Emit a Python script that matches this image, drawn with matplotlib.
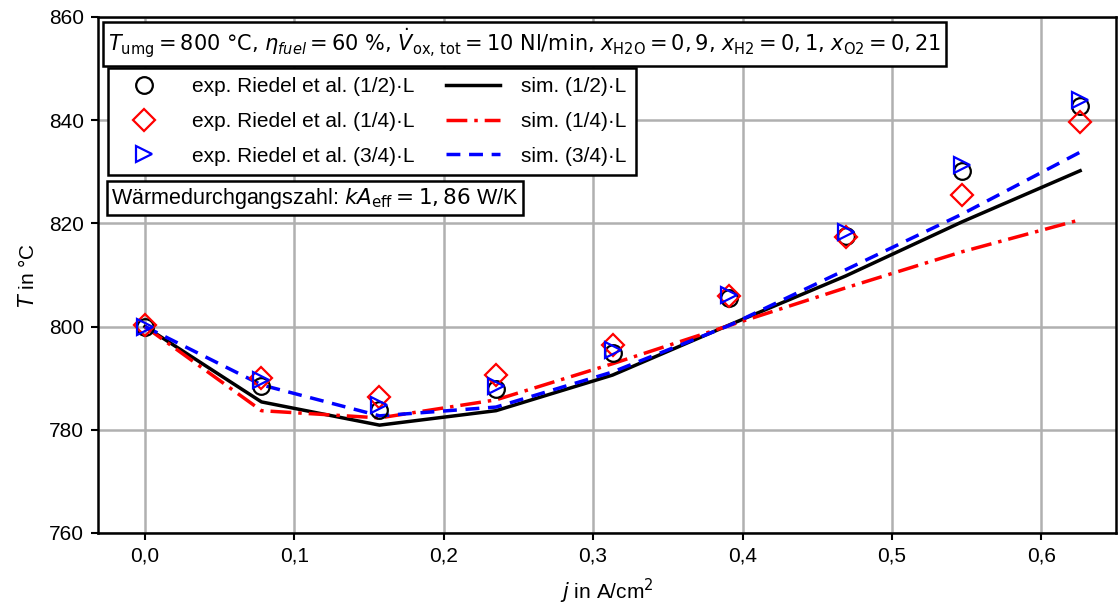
import matplotlib
matplotlib.use("Agg")
import matplotlib.pyplot as plt

j = [0.0, 0.078, 0.157, 0.235, 0.313, 0.391, 0.469, 0.547, 0.626]

exp_half = [800.0, 788.4, 783.8, 787.9, 794.9, 805.5, 817.6, 830.2, 842.8]
exp_quarter = [800.3, 790.0, 786.4, 790.6, 796.4, 805.9, 817.4, 825.5, 839.7]
exp_3quarter = [800.0, 789.7, 784.8, 788.5, 795.5, 806.1, 818.3, 831.3, 843.9]

sim_half = [800.0, 785.4, 780.9, 783.7, 790.6, 800.3, 809.8, 820.3, 830.2]
sim_quarter = [800.0, 783.7, 782.3, 785.8, 792.8, 800.2, 807.5, 814.5, 820.7]
sim_3quarter = [800.0, 788.7, 782.7, 784.4, 791.2, 800.2, 811.0, 821.8, 833.8]

xticks = [0.0, 0.1, 0.2, 0.3, 0.4, 0.5, 0.6]
xticklabels = ["0,0", "0,1", "0,2", "0,3", "0,4", "0,5", "0,6"]
yticks = [760, 780, 800, 820, 840, 860]

plt.rcParams['font.family'] = ['Liberation Sans', 'DejaVu Sans']
plt.rcParams['mathtext.fontset'] = 'dejavusans'
plt.rcParams['font.size'] = 14

fig = plt.figure(figsize=(11.18, 6.06), dpi=100)
ax = fig.add_axes([0.0877, 0.1205, 0.9105, 0.8515])

ax.grid(True, color='#b0b0b0', linewidth=1.8, zorder=0)
ax.set_axisbelow(True)

ms = 12
mew = 1.6
h1, = ax.plot(j, exp_half, linestyle='none', marker='o', ms=ms, mfc='none', mec='black', mew=mew, zorder=3)
h2, = ax.plot(j, exp_quarter, linestyle='none', marker='D', ms=ms*0.9, mfc='none', mec='red', mew=mew, zorder=3)
h3, = ax.plot(j, exp_3quarter, linestyle='none', marker='>', ms=ms, mfc='none', mec='blue', mew=mew, zorder=3)
l1, = ax.plot(j, sim_half, color='black', lw=2.5, zorder=2)
l2, = ax.plot(j, sim_quarter, color='red', lw=2.5, linestyle=(0, (6, 2, 1, 2)), zorder=2)
l3, = ax.plot(j, sim_3quarter, color='blue', lw=2.5, linestyle=(0, (4, 2.5)), zorder=2)

ax.set_xlim(-0.0314, 0.650)
ax.set_ylim(760, 860)
ax.set_xticks(xticks)
ax.set_xticklabels(xticklabels)
ax.set_yticks(yticks)
ax.tick_params(width=1.5, length=5, labelsize=15, pad=5)
for s in ax.spines.values():
    s.set_linewidth(1.8)

ax.set_xlabel(r"$j$ in A/cm$^2$", fontsize=15, labelpad=8)
ax.set_ylabel(r"$T$ in °C", fontsize=15, labelpad=8)

ax.text(0.0095, 0.981,
        r"$T_\mathrm{umg} = 800$ °C, $\eta_{fuel} = 60$ %, $\dot{V}_\mathrm{ox,\,tot} = 10$ Nl/min, "
        r"$x_\mathrm{H2O} = 0,9$, $x_\mathrm{H2} = 0,1$, $x_\mathrm{O2} = 0,21$",
        transform=ax.transAxes, ha='left', va='top', fontsize=15, family=['DejaVu Sans'],
        bbox=dict(boxstyle='square,pad=0.25', facecolor='white', edgecolor='black', linewidth=1.8),
        zorder=5)

leg = ax.legend([h1, h2, h3, l1, l2, l3],
                ["exp. Riedel et al. (1/2)·L", "exp. Riedel et al. (1/4)·L", "exp. Riedel et al. (3/4)·L",
                 "sim. (1/2)·L", "sim. (1/4)·L", "sim. (3/4)·L"],
                ncol=2, loc='upper left', bbox_to_anchor=(0.0098, 0.901),
                fancybox=False, framealpha=1, edgecolor='black', fontsize=15,
                borderaxespad=0, handlelength=2.6, columnspacing=1.5, labelspacing=0.75,
                handletextpad=1.0, borderpad=0.45)
leg.get_frame().set_linewidth(1.8)
leg.set_zorder(5)

ax.text(0.013, 0.673, r"Wärmedurchgangszahl: $kA_\mathrm{eff} = 1,86$ W/K",
        transform=ax.transAxes, ha='left', va='top', fontsize=15.5,
        bbox=dict(boxstyle='square,pad=0.22', facecolor='white', edgecolor='black', linewidth=1.8),
        zorder=5)

fig.savefig("out.png", dpi=100)
